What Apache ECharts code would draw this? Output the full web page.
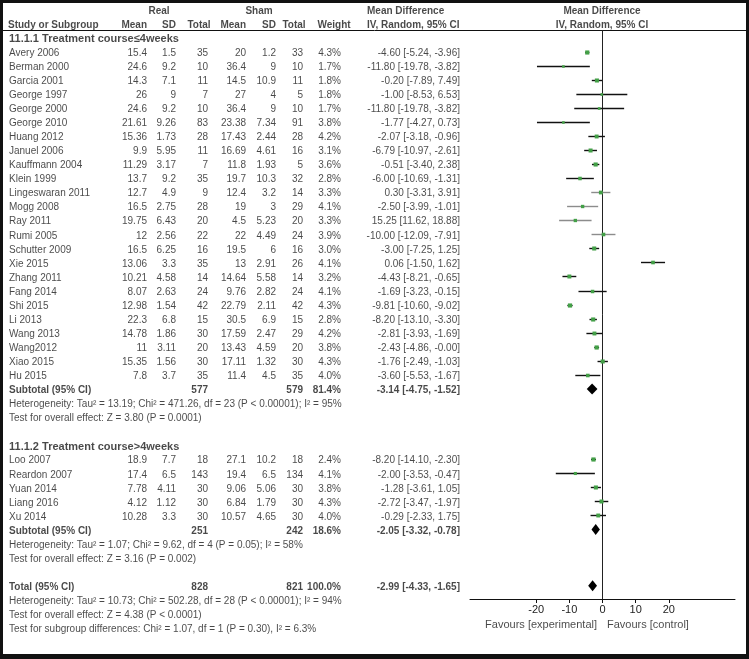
<!DOCTYPE html>
<html><head><meta charset="utf-8">
<script src="https://cdn.jsdelivr.net/npm/echarts@6/dist/echarts.min.js"></script>
<style>html,body{margin:0;padding:0;background:#fff}#c{width:749px;height:659px}</style>
</head><body><div id="c"></div>
<script>
// ---------- DATA ----------
const heading1 = '11.1.1 Treatment course≤4weeks';
const heading2 = '11.1.2 Treatment course>4weeks';

const studies1 = ['Avery 2006','Berman 2000','Garcia 2001','George 1997','George 2000','George 2010','Huang 2012','Januel 2006','Kauffmann 2004','Klein 1999','Lingeswaran 2011','Mogg 2008','Ray 2011','Rumi 2005','Schutter 2009','Xie 2015','Zhang 2011','Fang 2014','Shi 2015','Li 2013','Wang 2013','Wang2012','Xiao 2015','Hu 2015'];
const realMean1 = [15.4,24.6,14.3,26,24.6,21.61,15.36,9.9,11.29,13.7,12.7,16.5,19.75,12,16.5,13.06,10.21,8.07,12.98,22.3,14.78,11,15.35,7.8];
const realSD1   = [1.5,9.2,7.1,9,9.2,9.26,1.73,5.95,3.17,9.2,4.9,2.75,6.43,2.56,6.25,3.3,4.58,2.63,1.54,6.8,1.86,3.11,1.56,3.7];
const realN1    = [35,10,11,7,10,83,28,11,7,35,9,28,20,22,16,35,14,24,42,15,30,20,30,35];
const shamMean1 = [20,36.4,14.5,27,36.4,23.38,17.43,16.69,11.8,19.7,12.4,19,4.5,22,19.5,13,14.64,9.76,22.79,30.5,17.59,13.43,17.11,11.4];
const shamSD1   = [1.2,9,10.9,4,9,7.34,2.44,4.61,1.93,10.3,3.2,3,5.23,4.49,6,2.91,5.58,2.82,2.11,6.9,2.47,4.59,1.32,4.5];
const shamN1    = [33,10,11,5,10,91,28,16,5,32,14,29,20,24,16,26,14,24,42,15,29,20,30,35];
const weight1   = [4.3,1.7,1.8,1.8,1.7,3.8,4.2,3.1,3.6,2.8,3.3,4.1,3.3,3.9,3.0,4.1,3.2,4.1,4.3,2.8,4.2,3.8,4.3,4.0];
const md1 = [-4.60,-11.80,-0.20,-1.00,-11.80,-1.77,-2.07,-6.79,-0.51,-6.00,0.30,-2.50,15.25,-10.00,-3.00,0.06,-4.43,-1.69,-9.81,-8.20,-2.81,-2.43,-1.76,-3.60];
const lo1 = [-5.24,-19.78,-7.89,-8.53,-19.78,-4.27,-3.18,-10.97,-3.40,-10.69,-3.31,-3.99,11.62,-12.09,-7.25,-1.50,-8.21,-3.23,-10.60,-13.10,-3.93,-4.86,-2.49,-5.53];
const hi1 = [-3.96,-3.82,7.49,6.53,-3.82,0.73,-0.96,-2.61,2.38,-1.31,3.91,-1.01,18.88,-7.91,1.25,1.62,-0.65,-0.15,-9.02,-3.30,-1.69,-0.004,-1.03,-1.67];

const studies2 = ['Loo 2007','Reardon 2007','Yuan 2014','Liang 2016','Xu 2014'];
const realMean2 = [18.9,17.4,7.78,4.12,10.28];
const realSD2   = [7.7,6.5,4.11,1.12,3.3];
const realN2    = [18,143,30,30,30];
const shamMean2 = [27.1,19.4,9.06,6.84,10.57];
const shamSD2   = [10.2,6.5,5.06,1.79,4.65];
const shamN2    = [18,134,30,30,30];
const weight2   = [2.4,4.1,3.8,4.3,4.0];
const md2 = [-8.20,-2.00,-1.28,-2.72,-0.29];
const lo2 = [-14.10,-3.53,-3.61,-3.47,-2.33];
const hi2 = [-2.30,-0.47,1.05,-1.97,1.75];

const summaryLabels = ['Subtotal (95% CI)','Subtotal (95% CI)','Total (95% CI)'];
const summaryRealN  = [577,251,828];
const summaryShamN  = [579,242,821];
const summaryWeight = [81.4,18.6,100.0];
const summaryMD = [-3.14,-2.05,-2.99];
const summaryLo = [-4.75,-3.32,-4.33];
const summaryHi = [-1.52,-0.78,-1.65];
const hetTexts = [
  'Heterogeneity: Tau² = 13.19; Chi² = 471.26, df = 23 (P < 0.00001); I² = 95%',
  'Heterogeneity: Tau² = 1.07; Chi² = 9.62, df = 4 (P = 0.05); I² = 58%',
  'Heterogeneity: Tau² = 10.73; Chi² = 502.28, df = 28 (P < 0.00001); I² = 94%'
];
const effectTexts = [
  'Test for overall effect: Z = 3.80 (P = 0.0001)',
  'Test for overall effect: Z = 3.16 (P = 0.002)',
  'Test for overall effect: Z = 4.38 (P < 0.0001)'
];
const subgroupText = 'Test for subgroup differences: Chi² = 1.07, df = 1 (P = 0.30), I² = 6.3%';
const axisTicks = [-20,-10,0,10,20];
const favoursLeft = 'Favours [experimental]';
const favoursRight = 'Favours [control]';
const greyStudies = ['Kauffmann 2004','Klein 1999','Li 2013','Lingeswaran 2011'];

// ---------- LAYOUT ----------
const FONT = '"Liberation Sans", Arial, Helvetica, sans-serif';
const ROW0 = 51.5, DY = 14.06;           // pixel y of row 0 and row pitch
const TOP_ROW = -3, BOT_ROW = 42;
const PLOT_TOP = 30.7, PLOT_BOT = 599;   // zero line / x-axis
const PLOT_L = 470, PLOT_W = 265;
const col = {name:9, rMean:147, rSD:176, rN:208, sMean:246, sSD:276, sN:303, w:341, ci:460, mdHead:367, plot:602};

const f2 = v => v.toFixed(2);
const ciText = (m,l,h) => f2(m) + ' [' + f2(l) + ', ' + f2(h) + ']';

const items = [];
function T(x,row,s,align,bold,size){
  items.push({value:[x,row], t:s, label:{align:align||'left', fontWeight:bold?'bold':'normal', fontSize:size||10}});
}
// headers
T(159,-3,'Real','center',true); T(259,-3,'Sham','center',true);
T(col.mdHead,-3,'Mean Difference','left',true); T(col.plot,-3,'Mean Difference','center',true);
T(8,-2,'Study or Subgroup','left',true);
T(col.rMean,-2,'Mean','right',true); T(col.rSD,-2,'SD','right',true); T(199,-2,'Total','center',true);
T(col.sMean,-2,'Mean','right',true); T(col.sSD,-2,'SD','right',true); T(294,-2,'Total','center',true);
T(334,-2,'Weight','center',true);
T(col.mdHead,-2,'IV, Random, 95% CI','left',true); T(col.plot,-2,'IV, Random, 95% CI','center',true);

function studyRows(start, names, rm, rs, rn, sm, ss, sn, w, md, lo, hi){
  names.forEach((n,i)=>{
    const r = start+i;
    T(col.name,r,n); T(col.rMean,r,String(rm[i]),'right'); T(col.rSD,r,String(rs[i]),'right');
    T(col.rN,r,String(rn[i]),'right'); T(col.sMean,r,String(sm[i]),'right'); T(col.sSD,r,String(ss[i]),'right');
    T(col.sN,r,String(sn[i]),'right'); T(col.w,r,w[i].toFixed(1)+'%','right');
    T(col.ci,r,ciText(md[i],lo[i],hi[i]),'right');
  });
}
function summaryRow(r,k){
  T(col.name,r,summaryLabels[k],'left',true);
  T(col.rN,r,String(summaryRealN[k]),'right',true);
  T(col.sN,r,String(summaryShamN[k]),'right',true);
  T(col.w,r,summaryWeight[k].toFixed(1)+'%','right',true);
  T(col.ci,r,ciText(summaryMD[k],summaryLo[k],summaryHi[k]),'right',true);
  T(col.name,r+1,hetTexts[k]); T(col.name,r+2,effectTexts[k]);
}
const g1Start = 0, g1Sub = g1Start + studies1.length;          // 24
const g2Head = g1Sub + 4, g2Start = g2Head + 1, g2Sub = g2Start + studies2.length; // 28,29,34
const totRow = g2Sub + 4;                                          // 38
T(col.name,-1,heading1,'left',true,11);
studyRows(g1Start, studies1, realMean1, realSD1, realN1, shamMean1, shamSD1, shamN1, weight1, md1, lo1, hi1);
summaryRow(g1Sub,0);
T(col.name,g2Head,heading2,'left',true,11);
studyRows(g2Start, studies2, realMean2, realSD2, realN2, shamMean2, shamSD2, shamN2, weight2, md2, lo2, hi2);
summaryRow(g2Sub,1);
summaryRow(totRow,2);
T(col.name,totRow+3,subgroupText);
const favRow = (623-ROW0)/DY;
T(col.plot-5,favRow,favoursLeft,'right',false,11);
T(col.plot+5,favRow,favoursRight,'left',false,11);

// forest data: plotted in alphabetical order
function plotData(start, names, md, lo, hi, w){
  const order = names.map((_,i)=>i).sort((a,b)=> names[a] < names[b] ? -1 : 1);
  return order.map((idx,k)=>[md[idx], lo[idx], hi[idx], start+k, w[idx], greyStudies.includes(names[idx])?1:0]);
}
const forest = plotData(g1Start, studies1, md1, lo1, hi1, weight1).concat(plotData(g2Start, studies2, md2, lo2, hi2, weight2));
const diamonds = [[summaryMD[0],summaryLo[0],summaryHi[0],g1Sub],[summaryMD[1],summaryLo[1],summaryHi[1],g2Sub],[summaryMD[2],summaryLo[2],summaryHi[2],totRow]];

const chart = echarts.init(document.getElementById('c'));
chart.setOption({
  animation:false,
  backgroundColor:'#fff',
  textStyle:{fontFamily:FONT},
  grid:[
    {left:0, width:749, top:ROW0+DY*TOP_ROW, height:DY*(BOT_ROW-TOP_ROW)},
    {left:PLOT_L, width:PLOT_W, top:PLOT_TOP, height:PLOT_BOT-PLOT_TOP}
  ],
  xAxis:[
    {gridIndex:0, type:'value', min:0, max:749, show:false},
    {gridIndex:1, type:'value', min:-40, max:40, interval:10,
     axisLine:{onZero:false, lineStyle:{color:'#111', width:1}},
     axisTick:{customValues:axisTicks, length:4, lineStyle:{color:'#111'}},
     axisLabel:{customValues:axisTicks, margin:5, fontSize:11, color:'#222', fontFamily:FONT},
     splitLine:{show:false}}
  ],
  yAxis:[
    {gridIndex:0, type:'value', inverse:true, min:TOP_ROW, max:BOT_ROW, show:false},
    {gridIndex:1, type:'value', inverse:true, min:(PLOT_TOP-ROW0)/DY, max:(PLOT_BOT-ROW0)/DY,
     axisLine:{show:true, onZero:true, lineStyle:{color:'#222', width:1}},
     axisTick:{show:false}, axisLabel:{show:false}, splitLine:{show:false}}
  ],
  series:[
    {type:'scatter', xAxisIndex:0, yAxisIndex:0, data:items, symbolSize:1, silent:true, clip:false,
     itemStyle:{color:'rgba(0,0,0,0)'},
     label:{show:true, position:'inside', offset:[0,1.5], color:'#1a1a1a', fontFamily:FONT, fontSize:10,
            formatter:p=>p.data.t}},
    {type:'custom', xAxisIndex:1, yAxisIndex:1, data:forest, silent:true, clip:false,
     renderItem:(params,api)=>{
       const row=api.value(3), s=2*Math.sqrt(api.value(4));
       const pl=api.coord([api.value(1),row]), ph=api.coord([api.value(2),row]), pm=api.coord([api.value(0),row]);
       const y=Math.round(pl[1])+0.5;
       return {type:'group', children:[
         {type:'line', shape:{x1:pl[0],y1:y,x2:ph[0],y2:y}, style:{stroke:api.value(5)?'#8c8c8c':'#111', lineWidth:1.4}},
         {type:'rect', shape:{x:pm[0]-s/2,y:y-s/2,width:s,height:s}, style:{fill:'#43a047'}}
       ]};
     }},
    {type:'custom', xAxisIndex:1, yAxisIndex:1, data:diamonds, silent:true, clip:false,
     renderItem:(params,api)=>{
       const row=api.value(3);
       const pm=api.coord([api.value(0),row]), pl=api.coord([api.value(1),row]), ph=api.coord([api.value(2),row]);
       const h=5.5;
       return {type:'polygon', shape:{points:[[pl[0],pm[1]],[pm[0],pm[1]-h],[ph[0],pm[1]],[pm[0],pm[1]+h]]}, style:{fill:'#000'}};
     }}
  ],
  graphic:[
    {type:'line', shape:{x1:3,y1:30.5,x2:746,y2:30.5}, style:{stroke:'#111', lineWidth:1}},
    {type:'rect', shape:{x:0,y:0,width:749,height:3}, style:{fill:'#111'}},
    {type:'rect', shape:{x:0,y:0,width:3,height:659}, style:{fill:'#111'}},
    {type:'rect', shape:{x:746,y:0,width:3,height:659}, style:{fill:'#111'}},
    {type:'rect', shape:{x:0,y:654,width:749,height:5}, style:{fill:'#111'}}
  ]
});
</script></body></html>
